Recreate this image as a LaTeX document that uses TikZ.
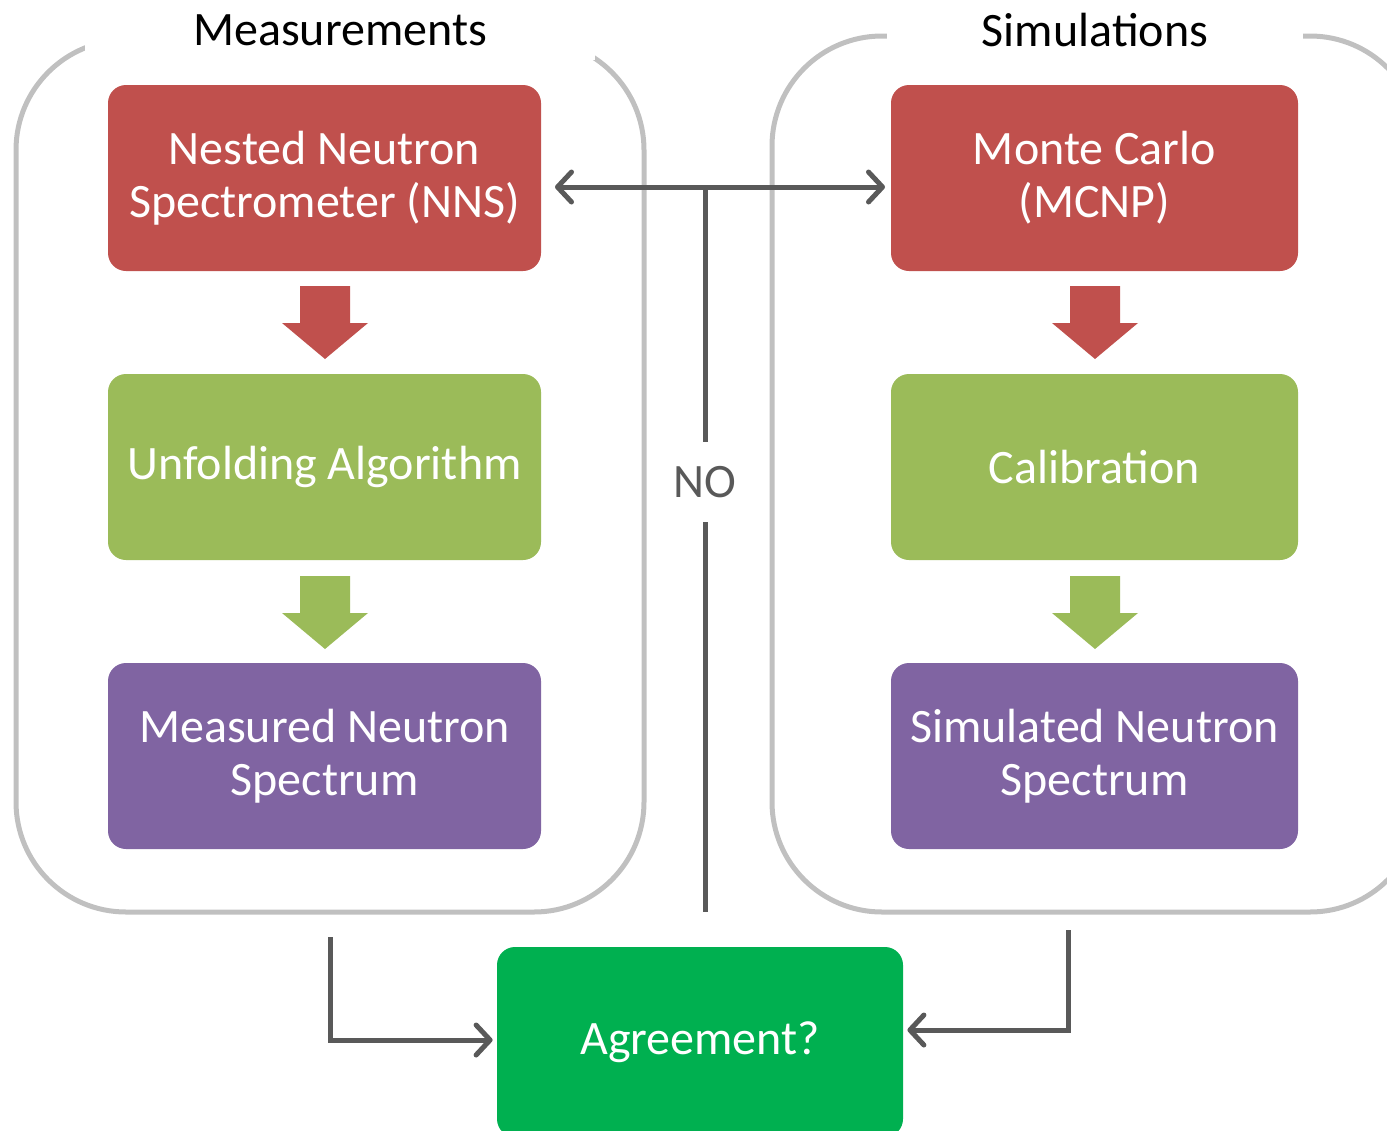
\documentclass[tikz,border=0pt]{standalone}
\usepackage{fontspec}
\setmainfont{Carlito}
\usetikzlibrary{arrows.meta}
\definecolor{stepred}{HTML}{C0504D}
\definecolor{stepgreen}{HTML}{9BBB59}
\definecolor{steppurple}{HTML}{8064A2}
\definecolor{agreegreen}{HTML}{00B050}
\definecolor{groupgray}{HTML}{C0C0C0}
\definecolor{conngray}{HTML}{595959}
\tikzset{
  stepbox/.style={rounded corners=9pt, minimum height=93pt, align=center,
    text=white, font=\fontsize{24}{26.5}\selectfont, inner sep=0pt},
  groupbox/.style={draw=groupgray, line width=2.5pt, rounded corners=55pt},
  grouptitle/.style={fill=white, font=\fontsize{24}{26.5}\selectfont, inner sep=0pt, minimum height=30pt},
  conn/.style={draw=conngray, line width=2.5pt,
    arrows={-}, >={Straight Barb[length=7pt,width=15pt,line cap=round,line join=round]}}
}
\begin{document}
\begin{tikzpicture}[x=0.5pt, y=-0.5pt]
    \useasboundingbox (0,0) rectangle (1387,1130);

    % group frames
    \draw[groupbox] (16,40) rectangle (644,912);
    \draw[groupbox] (772,36) rectangle (1420,912);
    \node[grouptitle, minimum width=255pt] (tmeas) at (340,30) {Measurements};
    \node[grouptitle, minimum width=208pt] (tsim) at (1095,30) {Simulations};

    % measurement chain
    \node[stepbox, fill=stepred, minimum width=216.5pt] (nns) at (324.5,178) {Nested Neutron\\Spectrometer (NNS)};
    \node[stepbox, fill=stepgreen, minimum width=216.5pt] (unfold) at (324.5,467) {Unfolding Algorithm};
    \node[stepbox, fill=steppurple, minimum width=216.5pt] (mspec) at (324.5,756) {Measured Neutron\\Spectrum};

    % simulation chain
    \node[stepbox, fill=stepred, minimum width=203.5pt] (mcnp) at (1094.5,178) {Monte Carlo\\(MCNP)};
    \node[stepbox, fill=stepgreen, minimum width=203.5pt] (calib) at (1094.5,467) {Calibration};
    \node[stepbox, fill=steppurple, minimum width=203.5pt] (sspec) at (1094.5,756) {Simulated Neutron\\Spectrum};

    \node[stepbox, fill=agreegreen, minimum width=203pt, minimum height=95pt] (agree) at (700,1042) {Agreement?};

    % block arrows
    \foreach \x/\y/\c in {325/286/stepred, 325/576/stepgreen, 1095/286/stepred, 1095/576/stepgreen}
        \fill[\c] (\x-25,\y) -- (\x+25,\y) -- (\x+25,\y+37) -- (\x+43,\y+37)
            -- (\x,\y+73) -- (\x-43,\y+37) -- (\x-25,\y+37) -- cycle;

    % feedback loop
    \node[text=conngray, font=\fontsize{24}{26.5}\selectfont, minimum height=40pt, inner sep=0pt] (no) at (705,482) {NO};
    \coordinate (nnsin) at (555,187);
    \coordinate (mcnpin) at (885,187);
    \coordinate (jn) at (705,187);
    \coordinate (nobot) at (705,912);
    \coordinate (mout) at (330,937);
    \coordinate (sout) at (1068,930);

    \draw[conn,<->] (nnsin) -- (mcnpin);
    \draw[conn] (jn) -- (no);
    \draw[conn] (no) -- (nobot);
    \draw[conn,->,line join=miter] (mout) |- ([xshift=-2pt,yshift=1pt]agree.west);
    \draw[conn,->,line join=miter] (sout) |- ([xshift=2pt,yshift=6pt]agree.east);

\end{tikzpicture}
\end{document}
